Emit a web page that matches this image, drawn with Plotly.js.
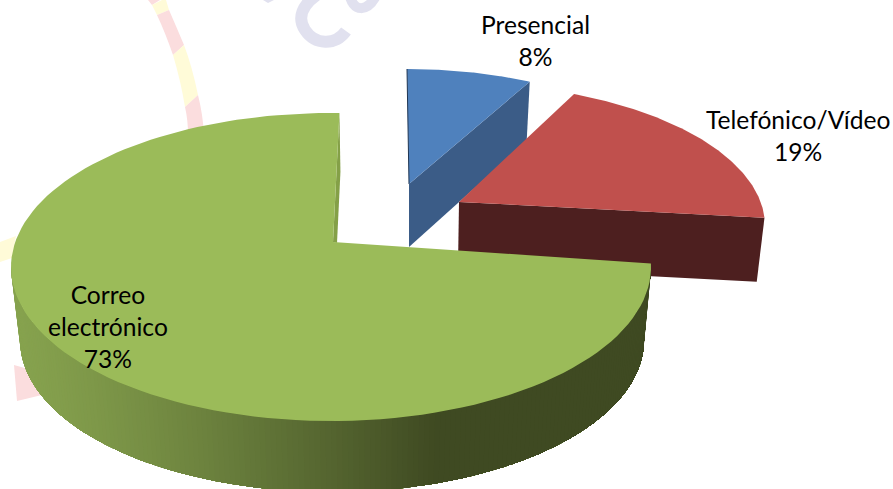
<!DOCTYPE html>
<html><head><meta charset="utf-8">
<script src="https://cdn.plot.ly/plotly-3.0.1.min.js"></script>
<style>html,body{margin:0;padding:0;background:#fff}#chart{width:893px;height:489px}</style>
</head><body><div id="chart"></div>
<script>
const categories = ["Presencial", "Telefónico/Vídeo", "Correo electrónico"];
const values = [8, 19, 73];
const labelLines = [["Presencial"], ["Telefónico/Vídeo"], ["Correo", "electrónico"]];
const labelPos = [[535, 40], [798, 135], [108, 326]];
const topColors = ["#4F81BD", "#C0504D", "#9BBB59"];
const wallColors = ["#3B5C87", "#4D1F1F", "#3F4A22"];

// Projection of each exploded slice: rim ellipse, apex, depth, rotation
const cx = [407, 455, 331], cy = [209, 226, 267], rx = [295, 310, 320], ry = [140, 143, 154];
const apexX = [409, 459, 333], apexY = [184, 202, 242], depth = [58, 64, 73], rot = [90, 92, 90];
const bottomScaleX = 0.975, bottomScaleY = 0.987;

const total = values.reduce((a, b) => a + b, 0);
const rad = d => d * Math.PI / 180;
const view = th => th * 1.0042 - 9 * Math.sin(rad(th));   // perspective warp of pie angle
const rimTop = (i, t) => [cx[i] + rx[i] * Math.cos(rad(t)), cy[i] - ry[i] * Math.sin(rad(t))];
const rimBot = (i, t) => [cx[i] + rx[i] * bottomScaleX * Math.cos(rad(t)) + (i === 2 ? 1 : 0),
                          cy[i] + depth[i] - ry[i] * bottomScaleY * Math.sin(rad(t))];

function poly(pts, color, name) {
  return {type: "scatter", mode: "lines", x: pts.map(p => p[0]), y: pts.map(p => p[1]),
    fill: "toself", fillcolor: color, line: {width: 0}, hoverinfo: "skip",
    showlegend: false, name: name || ""};
}
function mix(a, b, f) {
  const c = (s, k) => parseInt(s.substr(1 + 2 * k, 2), 16);
  return "rgb(" + [0, 1, 2].map(k => Math.round(c(a, k) + (c(b, k) - c(a, k)) * f)).join(",") + ")";
}

const traces = [];
let cum = 0;
const spans = values.map(v => { const s = [cum, cum + v / total * 360]; cum = s[1]; return s; });
const tStart = spans.map((s, i) => rot[i] - view(s[0]));
const tEnd = spans.map((s, i) => rot[i] - view(s[1]));

function topFace(i) {
  const pts = [[apexX[i], apexY[i]]];
  const n = 120;
  for (let k = 0; k <= n; k++) {
    const th = spans[i][0] + (spans[i][1] - spans[i][0]) * k / n;
    pts.push(rimTop(i, rot[i] - view(th)));
  }
  pts.push([apexX[i], apexY[i]]);
  return poly(pts, topColors[i], categories[i]);
}
// Presencial: cut face, top face, thin dark edge of the start face
traces.push(poly([[apexX[0], apexY[0]], rimTop(0, tEnd[0]), rimBot(0, tEnd[0]), [apexX[0], apexY[0] + depth[0] + 5]], wallColors[0]));
traces.push(topFace(0));
const s0 = rimTop(0, tStart[0]);
traces.push({type: "scatter", mode: "lines", x: [s0[0], apexX[0]], y: [s0[1], apexY[0]],
  line: {color: "#1F3552", width: 1}, hoverinfo: "skip", showlegend: false});
// Telefónico: front wall, top face
traces.push(poly([[apexX[1], apexY[1]], rimTop(1, tEnd[1]), rimBot(1, tEnd[1]), [apexX[1] - 1, apexY[1] + depth[1]]], wallColors[1]));
traces.push(topFace(1));
// Correo: inner sliver, rim wall (overlapping gradient strips), top face
const gs = rimTop(2, tEnd[2]);
traces.push(poly([gs, [gs[0] + 1, gs[1] + 59], [apexX[2] + 4, apexY[2] + 1], [apexX[2], apexY[2]]], "#84A047"));
const wallLight = "#86A24E", wallDark = "#3F4A22";
const rimEnd = 360 + tStart[2];   // rim angle where the wall ends on the right
for (let t = 178; t < rimEnd; t += 1) {
  const f = Math.max(0, Math.min(1, (rimTop(2, t + 0.5)[0] - 15) / 420));
  const col = mix(wallLight, wallDark, Math.pow(f, 1.25));
  // each strip runs on to the end of the wall; the next one paints over it
  const pts = [];
  for (let u = t; u < rimEnd; u += 2) pts.push(rimTop(2, u));
  pts.push(rimTop(2, rimEnd), rimBot(2, rimEnd));
  for (let u = rimEnd; u > t; u -= 2) pts.push(rimBot(2, u));
  pts.push(rimBot(2, t));
  traces.push(poly(pts, col));
}
traces.push(topFace(2));

const annotations = categories.map((c, i) => ({
  x: labelPos[i][0], y: labelPos[i][1], xref: "x", yref: "y", showarrow: false,
  text: labelLines[i].concat([values[i] + "%"]).join("<br>"),
  font: {family: "Lato, 'Open Sans', sans-serif", size: 24.6, color: "#000"},
  align: "center", xanchor: "center", yanchor: "middle"
}));

// Faint background watermark of the source
const pink = "#FBDDDE", yellow = "#FFFBD8", lav = "#E1E1EF";
const fillShape = (path, c) => ({type: "path", path, fillcolor: c, line: {width: 0}, layer: "below"});
const strokeShape = (path, c, w) => ({type: "path", path, line: {color: c, width: w}, layer: "below"});
const shapes = [
  fillShape("M148,0 L160,0 L152,5 Z", pink),
  fillShape("M152,5 L162,0 L166,0 L169,10 L157,15 Z", yellow),
  fillShape("M157,15 L169,10 Q176,26 184,45 L173,55 Q165,32 157,15 Z", pink),
  fillShape("M173,55 L184,45 Q192,66 198,95 L185,107 Q181,82 173,55 Z", yellow),
  fillShape("M185,107 L198,95 Q203,115 204,135 L188,135 Q188,120 185,107 Z", pink),
  fillShape("M0,242 L16,236 L12,258 L0,262 Z", yellow),
  fillShape("M14,365 L32,370 L46,394 L17,401 Z", pink),
  strokeShape("M346,31 C335,46 315,45 305,30 C297,18 302,5 318,-6", lav, 12),
  strokeShape("M349,-8 C352,13 368,14 378,-8", lav, 10),
  fillShape("M263,0 L274,0 L268,3 Z", lav)
];

Plotly.newPlot("chart", traces, {
  width: 893, height: 489, margin: {l: 0, r: 0, t: 0, b: 0},
  paper_bgcolor: "#fff", plot_bgcolor: "#fff", showlegend: false,
  xaxis: {range: [0, 893], visible: false, fixedrange: true},
  yaxis: {range: [489, 0], visible: false, fixedrange: true},
  annotations, shapes
}, {staticPlot: true, displayModeBar: false});
</script></body></html>
